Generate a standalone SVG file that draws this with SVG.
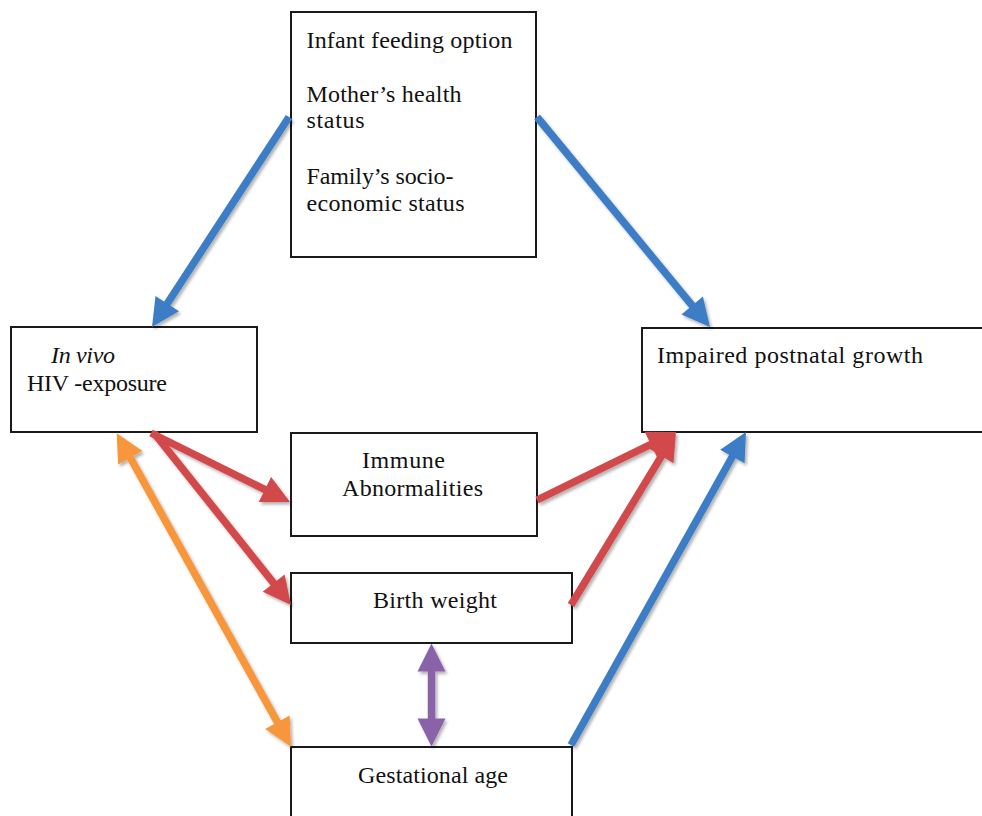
<svg xmlns="http://www.w3.org/2000/svg" width="982" height="816" viewBox="0 0 982 816">
<defs>
<filter id="sh" x="-20%" y="-20%" width="140%" height="140%">
<feDropShadow dx="2" dy="2.5" stdDeviation="1.8" flood-color="#000" flood-opacity="0.3"/>
</filter>
</defs>
<style>
.box{fill:#fff;stroke:#1a1a1a;stroke-width:2}
.t{font-family:"Liberation Serif","Times New Roman",serif;font-size:24px;fill:#111}
.it{font-style:italic}
.shaft{fill:none;stroke-width:7.5;stroke-linecap:butt}
.blue{stroke:#3D7DC6;fill:#3D7DC6}
.red{stroke:#D24A4C;fill:#D24A4C}
.orange{stroke:#F7963A;fill:#F7963A}
.purple{stroke:#8A62A8;fill:#8A62A8}
.head{stroke:none}
</style>
<rect width="982" height="816" fill="#fff"/>
<g id="node-factors">
<rect class="box" x="291" y="12" width="245" height="245"/>
<text class="t" x="306.5" y="48" textLength="206" lengthAdjust="spacing">Infant feeding option</text>
<text class="t" x="306.5" y="102" textLength="155" lengthAdjust="spacing">Mother’s health</text>
<text class="t" x="306.5" y="128" textLength="58" lengthAdjust="spacing">status</text>
<text class="t" x="306.5" y="184" textLength="147" lengthAdjust="spacing">Family’s socio-</text>
<text class="t" x="306.5" y="211" textLength="158" lengthAdjust="spacing">economic status</text>
</g>
<g id="node-hiv">
<rect class="box" x="11" y="327" width="246" height="105"/>
<text class="t it" x="51" y="363" textLength="64" lengthAdjust="spacing">In vivo</text>
<text class="t" x="27" y="391" textLength="140" lengthAdjust="spacing">HIV -exposure</text>
</g>
<g id="node-growth">
<rect class="box" x="642" y="328" width="360" height="104"/>
<text class="t" x="657" y="363" textLength="266" lengthAdjust="spacing">Impaired postnatal growth</text>
</g>
<g id="node-immune">
<rect class="box" x="291" y="433" width="246" height="103"/>
<text class="t" x="362" y="468" textLength="83" lengthAdjust="spacing">Immune</text>
<text class="t" x="342" y="496" textLength="141" lengthAdjust="spacing">Abnormalities</text>
</g>
<g id="node-birthweight">
<rect class="box" x="291" y="573" width="281" height="70"/>
<text class="t" x="373" y="608" textLength="124" lengthAdjust="spacing">Birth weight</text>
</g>
<g id="node-gestational">
<rect class="box" x="291" y="747" width="281" height="90"/>
<text class="t" x="358" y="783" textLength="150" lengthAdjust="spacing">Gestational age</text>
</g>
<g id="connectors" filter="url(#sh)">
<g class="blue">
<line class="shaft" x1="289" y1="117" x2="162.9" y2="310.2"/>
<polygon class="head" points="152,327 155.5,295.9 179,311.2"/>
<line class="shaft" x1="537" y1="117" x2="697.2" y2="311.6"/>
<polygon class="head" points="710,327 681.4,314.4 702.9,296.5"/>
<line class="shaft" x1="571" y1="745" x2="736.3" y2="449.5"/>
<polygon class="head" points="746,432 744.6,463.3 720.2,449.7"/>
</g>
<g class="red">
<line class="shaft" x1="151" y1="433" x2="272.1" y2="493.1"/>
<polygon class="head" points="290,502 258.7,502 271.1,477"/>
<line class="shaft" x1="154" y1="433" x2="278.6" y2="589.3"/>
<polygon class="head" points="291,605 262.7,591.7 284.6,574.4"/>
<line class="shaft" x1="537" y1="500" x2="658" y2="440.8"/>
<polygon class="head" points="676,432 657,456.9 644.7,431.7"/>
<line class="shaft" x1="571" y1="605" x2="665.7" y2="449.1"/>
<polygon class="head" points="676,432 673.5,463.2 649.5,448.7"/>
</g>
<g class="orange">
<line class="shaft" x1="126.4" y1="450.8" x2="281.3" y2="729.2"/>
<polygon class="head" points="116.7,433.3 118.1,464.6 142.5,451"/>
<polygon class="head" points="291,746.7 265.2,729 289.6,715.4"/>
</g>
<g class="purple">
<line class="shaft" x1="431.5" y1="660" x2="431.5" y2="730"/>
<polygon class="head" points="431.5,643.5 417.5,671.5 445.5,671.5"/>
<polygon class="head" points="431.5,746.5 417.5,718.5 445.5,718.5"/>
</g>
</g>
</svg>
